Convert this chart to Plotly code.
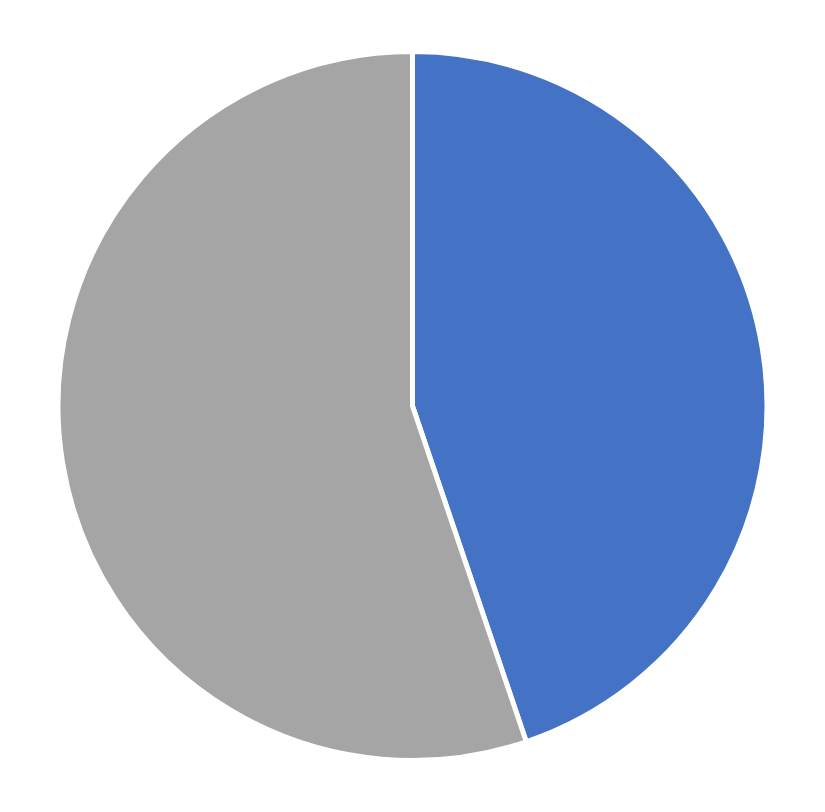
import plotly.graph_objects as go

# Slice data
labels = ["Series A", "Series B"]
values = [44.8, 55.2]
colors = ["#4472C4", "#A5A5A5"]

fig = go.Figure()
fig.add_trace(go.Pie(
    labels=labels,
    values=values,
    sort=False,
    direction="clockwise",
    rotation=0,
    textinfo="none",
    hoverinfo="label+percent",
    marker=dict(colors=colors, line=dict(color="white", width=5)),
))

fig.update_layout(
    width=825,
    height=812,
    showlegend=False,
    paper_bgcolor="white",
    plot_bgcolor="white",
    margin=dict(l=50, r=66, t=42, b=58),
)

fig.write_html("out.html")
